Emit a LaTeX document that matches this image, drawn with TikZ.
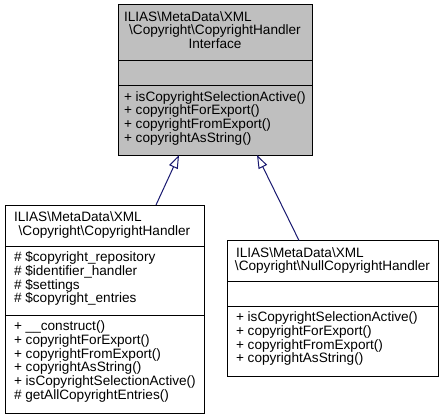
\documentclass[tikz,border=0pt]{standalone}
\usepackage{fontspec}
\setmainfont{Liberation Sans}
\usetikzlibrary{arrows.meta,calc}
\definecolor{edgeblue}{HTML}{191970}
\definecolor{hdrgray}{HTML}{BFBFBF}
\newcommand\bs{\textbackslash}
\newcommand\tfont{\fontsize{10.2}{12}\selectfont}
\begin{document}
\begin{tikzpicture}[x=0.75pt,y=-0.75pt,
  box/.style={draw=black, line width=0.75pt, fill=white, anchor=north west, inner sep=0pt, outer sep=0pt},
  divline/.style={draw=black, line width=0.75pt},
  txt/.style={inner sep=0pt, outer sep=0pt, font=\tfont, anchor=base west},
  ctxt/.style={inner sep=0pt, outer sep=0pt, font=\tfont, anchor=base},
  edge/.style={draw=edgeblue, line width=0.75pt, -{Triangle[open, length=10pt, width=7pt]}}]
\useasboundingbox (0,0) rectangle (443,419);
% boxes
\node[box, fill=hdrgray, minimum width=145.5pt, minimum height=112.875pt] (top) at (118,4.5) {};
\node[box, minimum width=149.25pt, minimum height=156pt] (lft) at (5,205) {};
\node[box, minimum width=158.25pt, minimum height=101.625pt] (rgt) at (227,240.5) {};
% dividers
\draw[divline] (top.west |- 0,60.5) -- (top.east |- 0,60.5);
\draw[divline] (top.west |- 0,85.5) -- (top.east |- 0,85.5);
\draw[divline] (lft.west |- 0,246) -- (lft.east |- 0,246);
\draw[divline] (lft.west |- 0,315) -- (lft.east |- 0,315);
\draw[divline] (rgt.west |- 0,281) -- (rgt.east |- 0,281);
\draw[divline] (rgt.west |- 0,306) -- (rgt.east |- 0,306);
% top box texts
\node[txt] (ta1) at (124,21) {ILIAS\bs MetaData\bs XML};
\node[ctxt] (ta2) at (215,34.8) {\bs Copyright\bs CopyrightHandler};
\node[ctxt] (ta3) at (215,48.6) {Interface};
\foreach \s [count=\i] in {{+ isCopyrightSelectionActive()},{+ copyrightForExport()},{+ copyrightFromExport()},{+ copyrightAsString()}}
  \node[txt] (tm\i) at (124,{101+13.8*(\i-1)}) {\s};
% left box texts
\node[txt] (la1) at (14,221.5) {ILIAS\bs MetaData\bs XML};
\node[ctxt] (la2) at (104.5,235.3) {\bs Copyright\bs CopyrightHandler};
\foreach \s [count=\i] in {{\# \$copyright\_repository},{\# \$identifier\_handler},{\# \$settings},{\# \$copyright\_entries}}
  \node[txt] (lv\i) at (14,{261.5+13.8*(\i-1)}) {\s};
\foreach \s [count=\i] in {{+ \_\_construct()},{+ copyrightForExport()},{+ copyrightFromExport()},{+ copyrightAsString()},{+ isCopyrightSelectionActive()},{\# getAllCopyrightEntries()}}
  \node[txt] (lm\i) at (14,{330.5+13.8*(\i-1)}) {\s};
% right box texts
\node[txt] (ra1) at (236,257) {ILIAS\bs MetaData\bs XML};
\node[ctxt] (ra2) at (332.5,270.8) {\bs Copyright\bs NullCopyrightHandler};
\foreach \s [count=\i] in {{+ isCopyrightSelectionActive()},{+ copyrightForExport()},{+ copyrightFromExport()},{+ copyrightAsString()}}
  \node[txt] (rm\i) at (236,{321.5+13.8*(\i-1)}) {\s};
% inheritance arrows
\draw[edge] ($(lft.north west)+(151,0)$) -- ($(top.south west)+(61,0)$);
\draw[edge] ($(rgt.north west)+(72,0)$) -- ($(top.south west)+(139,0)$);
\end{tikzpicture}
\end{document}
